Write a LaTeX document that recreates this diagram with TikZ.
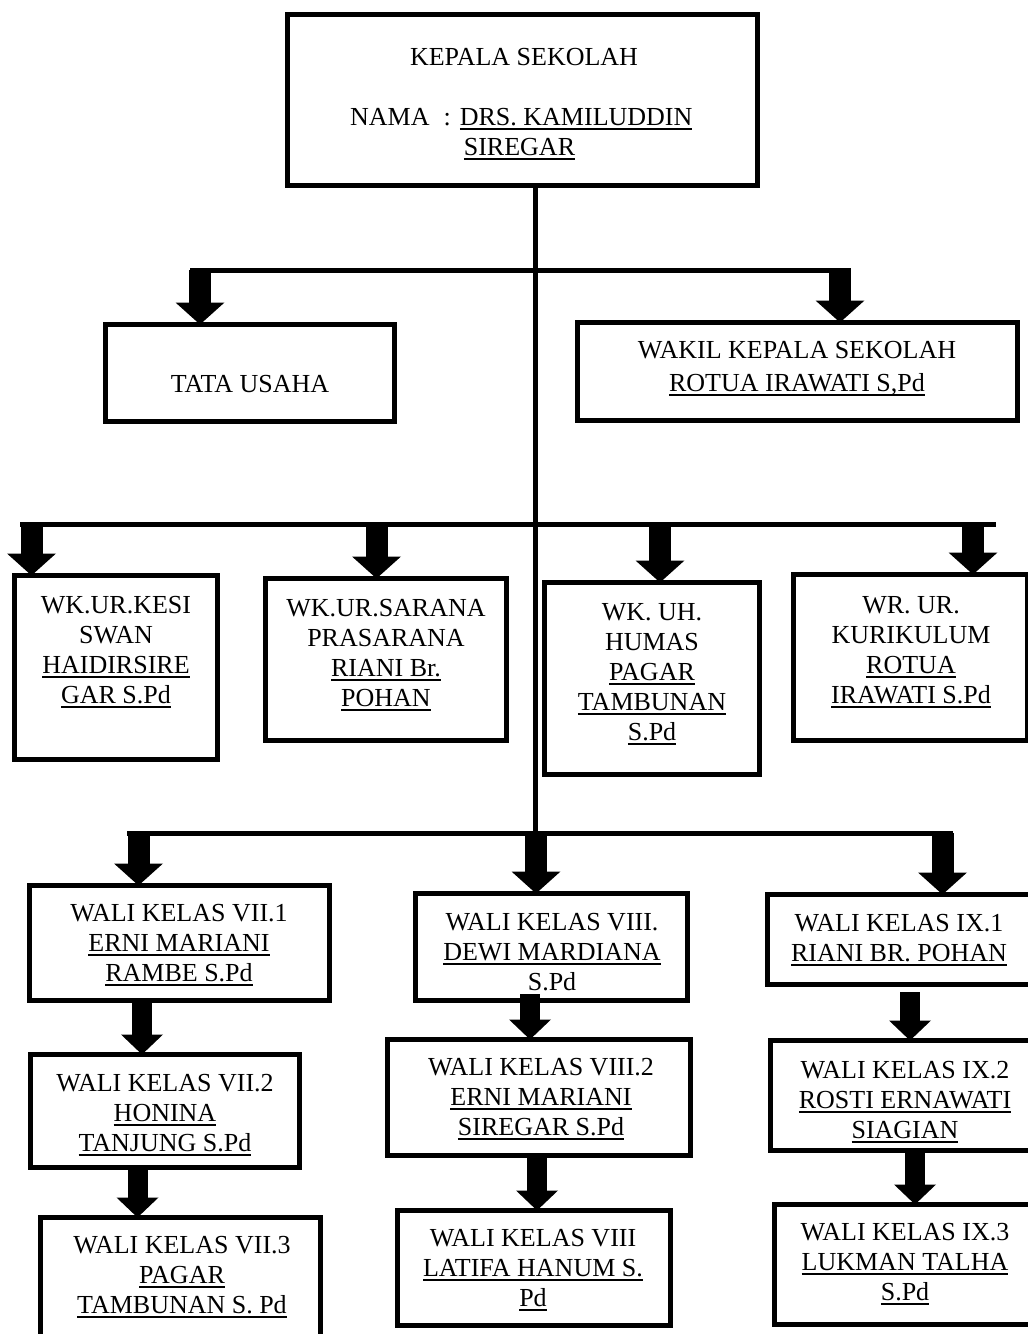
\documentclass[tikz,border=0pt]{standalone}
\usepackage{fontspec}
\setmainfont{Liberation Serif}
\usetikzlibrary{arrows.meta}
\newcommand\ul[1]{{\setbox0\hbox{#1}\rlap{\rule[-4.5pt]{\wd0}{1.8pt}}\box0}}
\newcommand\ml[1]{\begin{tabular}[t]{@{}c@{}}#1\end{tabular}}
\newcommand\bx[5]{%
  \pgfmathsetmacro\bw{#4-#2-5}\pgfmathsetmacro\bh{#5-#3-5}%
  \pgfmathsetmacro\bcx{(#2+#4)/2}\pgfmathsetmacro\bcy{(#3+#5)/2}%
  \node[boxst, minimum width=\bw pt, minimum height=\bh pt] (#1) at (\bcx,\bcy) {};}
\begin{document}
\begin{tikzpicture}[x=1pt, y=-1pt,
  boxst/.style={draw, line width=5pt, inner sep=0pt, outer sep=0pt},
  bus/.style={line width=5pt},
  bigarrow/.style={line width=22pt, -{Triangle[width=49pt,length=22pt,line width=0pt]}},
  smallarrow/.style={line width=20pt, -{Triangle[width=42pt,length=20pt,line width=0pt]}},
  txt/.style={inner sep=0pt, anchor=base, font=\fontsize{26}{30}\selectfont}]
\useasboundingbox (0,0) rectangle (1028,1334);
% boxes
\bx{top}{285}{12}{760}{188}
\bx{tata}{103}{322}{397}{424}
\bx{wakil}{575}{320}{1020}{423}
\bx{kes}{12}{573}{220}{762}
\bx{sar}{263}{576}{509}{743}
\bx{hum}{542}{580}{762}{777}
\bx{kur}{791}{572}{1030}{743}
\bx{vii1}{27}{883}{332}{1003}
\bx{vii2}{28}{1052}{302}{1170}
\bx{vii3}{38}{1215}{323}{1345}
\bx{viii1}{413}{891}{690}{1003}
\bx{viii2}{385}{1037}{693}{1158}
\bx{viii3}{395}{1208}{673}{1328}
\bx{ix1}{765}{892}{1040}{987}
\bx{ix2}{768}{1038}{1040}{1153}
\bx{ix3}{772}{1202}{1040}{1327}
% texts
\node[txt] (tTop) at (524,65) {KEPALA SEKOLAH};
\node[txt, anchor=base west] (tNama) at (350,125) {\begin{tabular}[t]{@{}l@{}l@{}}NAMA\hspace{14pt}:\hspace{9pt}\mbox{} & \ul{DRS. KAMILUDDIN}\\ & \hspace{4pt}\ul{SIREGAR}\end{tabular}};
\node[txt] (tTata) at (250,392) {TATA USAHA};
\node[txt, font=\fontsize{26}{33}\selectfont] (tWakil) at (797,358) {\ml{WAKIL KEPALA SEKOLAH\\\ul{ROTUA IRAWATI S,Pd}}};
\node[txt] (tKes) at (116,613) {\ml{WK.UR.KESI\\SWAN\\\ul{HAIDIRSIRE}\\\ul{GAR S.Pd}}};
\node[txt] (tSar) at (386,616) {\ml{WK.UR.SARANA\\PRASARANA\\\ul{RIANI Br.}\\\ul{POHAN}}};
\node[txt] (tHum) at (652,620) {\ml{WK. UH.\\HUMAS\\\ul{PAGAR}\\\ul{TAMBUNAN}\\\ul{S.Pd}}};
\node[txt] (tKur) at (911,613) {\ml{WR. UR.\\KURIKULUM\\\ul{ROTUA}\\\ul{IRAWATI S.Pd}}};
\node[txt] (tVii1) at (179,921) {\ml{WALI KELAS VII.1\\\ul{ERNI MARIANI}\\\ul{RAMBE S.Pd}}};
\node[txt] (tVii2) at (165,1091) {\ml{WALI KELAS VII.2\\\ul{HONINA}\\\ul{TANJUNG S.Pd}}};
\node[txt] (tVii3) at (182,1253) {\ml{WALI KELAS VII.3\\\ul{PAGAR}\\\ul{TAMBUNAN S. Pd}}};
\node[txt] (tViii1) at (552,930) {\ml{WALI KELAS VIII.\\\ul{DEWI MARDIANA}\\S.Pd}};
\node[txt] (tViii2) at (541,1075) {\ml{WALI KELAS VIII.2\\\ul{ERNI MARIANI}\\\ul{SIREGAR S.Pd}}};
\node[txt] (tViii3) at (533,1246) {\ml{WALI KELAS VIII\\\ul{LATIFA HANUM S.}\\\ul{Pd}}};
\node[txt] (tIx1) at (899,931) {\ml{WALI KELAS IX.1\\\ul{RIANI BR. POHAN}}};
\node[txt] (tIx2) at (905,1078) {\ml{WALI KELAS IX.2\\\ul{ROSTI ERNAWATI}\\\ul{SIAGIAN}}};
\node[txt] (tIx3) at (905,1240) {\ml{WALI KELAS IX.3\\\ul{LUKMAN TALHA}\\\ul{S.Pd}}};
% trunk and buses
\coordinate (tr) at (535,833);
\draw[bus] (tr |- top.south) -- (tr);
\coordinate (b1l) at (190,270); \coordinate (b1r) at (851,270);
\coordinate (b2l) at (20,524);  \coordinate (b2r) at (996,524);
\coordinate (b3l) at (127,833); \coordinate (b3r) at (953,833);
\draw[bus] (b1l) -- (b1r);
\draw[bus] (b2l) -- (b2r);
\draw[bus] (b3l) -- (b3r);
% arrows from buses
\coordinate (a1) at (200,270);   \draw[bigarrow] (a1) -- (a1 |- tata.north);
\coordinate (a2) at (840,270);   \draw[bigarrow] (a2) -- (a2 |- wakil.north);
\coordinate (a3) at (31.5,524);  \draw[bigarrow] (a3) -- (a3 |- kes.north);
\coordinate (a4) at (376.5,524); \draw[bigarrow] (a4) -- (a4 |- sar.north);
\coordinate (a5) at (660,524);   \draw[bigarrow] (a5) -- (a5 |- hum.north);
\coordinate (a6) at (973,524);   \draw[bigarrow] (a6) -- (a6 |- kur.north);
\coordinate (a7) at (138.5,833); \draw[bigarrow] (a7) -- (a7 |- vii1.north);
\coordinate (a8) at (536,833);   \draw[bigarrow] (a8) -- (a8 |- viii1.north);
\coordinate (a9) at (942.5,833); \draw[bigarrow] (a9) -- (a9 |- ix1.north);
% arrows between class boxes
\coordinate (k1) at (142,0);     \draw[smallarrow] (vii1.south -| k1) -- (vii2.north -| k1);
\coordinate (k2) at (137.5,0);   \draw[smallarrow] (vii2.south -| k2) -- (vii3.north -| k2);
\coordinate (k3) at (530,994);   \draw[smallarrow] (k3) -- (k3 |- viii2.north);
\coordinate (k4) at (537,0);     \draw[smallarrow] (viii2.south -| k4) -- (viii3.north -| k4);
\coordinate (k5) at (910,992);   \draw[smallarrow] (k5) -- (k5 |- ix2.north);
\coordinate (k6) at (915,0);     \draw[smallarrow] (ix2.south -| k6) -- (ix3.north -| k6);
\end{tikzpicture}
\end{document}
